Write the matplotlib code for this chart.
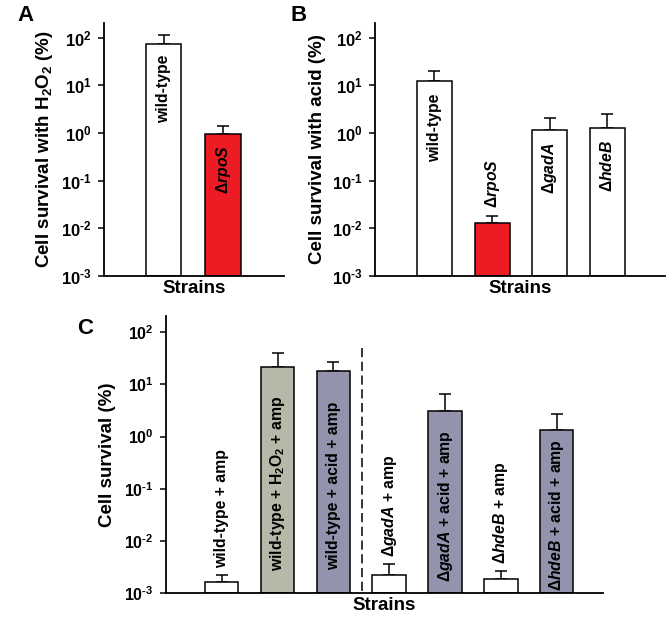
import numpy as np
import matplotlib
matplotlib.use("Agg")
import matplotlib.pyplot as plt
from matplotlib.ticker import FixedLocator, FuncFormatter, NullLocator

plt.rcParams['font.family'] = ['Liberation Sans', 'DejaVu Sans']
plt.rcParams['font.weight'] = 'bold'
plt.rcParams['mathtext.fontset'] = 'custom'
plt.rcParams['mathtext.rm'] = 'Liberation Sans'
plt.rcParams['mathtext.it'] = 'Liberation Sans:italic:bold'
plt.rcParams['mathtext.bf'] = 'Liberation Sans:bold'
plt.rcParams['mathtext.default'] = 'bf'

# ---------------- data ----------------
a_labels = ['wild-type', r'$\mathrm{Δ}\mathit{rpoS}$']
a_values = [75.0, 0.95]
a_err = [40.0, 0.47]
a_colors = ['#ffffff', '#ed1c24']

b_labels = ['wild-type', r'$\mathrm{Δ}\mathit{rpoS}$', r'$\mathrm{Δ}\mathit{gadA}$', r'$\mathrm{Δ}\mathit{hdeB}$']
b_values = [12.3, 0.0128, 1.15, 1.27]
b_err = [7.3, 0.0057, 0.97, 1.26]
b_colors = ['#ffffff', '#ed1c24', '#ffffff', '#ffffff']

c_labels = ['wild-type + amp',
            'wild-type + H$_2$O$_2$ + amp',
            'wild-type + acid + amp',
            r'$\mathrm{Δ}\mathit{gadA}$ + amp',
            r'$\mathrm{Δ}\mathit{gadA}$ + acid + amp',
            r'$\mathrm{Δ}\mathit{hdeB}$ + amp',
            r'$\mathrm{Δ}\mathit{hdeB}$ + acid + amp']
c_values = [0.0016, 21.9, 18.4, 0.00217, 3.15, 0.00185, 1.33]
c_err = [0.0006, 18.8, 9.0, 0.0015, 3.43, 0.00082, 1.36]
c_colors = ['#ffffff', '#b8b8a8', '#9393ad', '#ffffff', '#9393ad', '#ffffff', '#9393ad']

y_ticks = [1e-3, 1e-2, 1e-1, 1e0, 1e1, 1e2]
y_min, y_max = 1e-3, 10 ** 2.31

W, H = 667, 618
fig = plt.figure(figsize=(W / 100, H / 100), dpi=100)


def px_axes(left, right, top, bottom):
    return fig.add_axes([left / W, 1 - bottom / H, (right - left) / W, (bottom - top) / H])


def tick_fmt(v, p):
    e = int(round(np.log10(v)))
    s = str(e).replace('-', '\u2010')
    return r'$\mathbf{10^{%s}}$' % s


def style(ax, tick_fs):
    ax.set_yscale('log')
    ax.set_ylim(y_min, y_max)
    ax.yaxis.set_major_locator(FixedLocator(y_ticks))
    ax.yaxis.set_minor_locator(NullLocator())
    ax.yaxis.set_major_formatter(FuncFormatter(tick_fmt))
    ax.set_xticks([])
    for s in ['top', 'right']:
        ax.spines[s].set_visible(False)
    for s in ['left', 'bottom']:
        ax.spines[s].set_linewidth(1.3)
    ax.tick_params(axis='y', direction='out', length=4, width=1.1,
                   labelsize=tick_fs, pad=5)
    ax.set_xlabel('Strains', fontsize=13.5, fontweight='bold', labelpad=3)


def draw_bars(ax, values, errs, colors, width):
    x = np.arange(len(values))
    vals = np.asarray(values)
    ax.errorbar(x, vals, yerr=[np.zeros(len(errs)), errs], fmt='none',
                ecolor='black', elinewidth=1.1, capsize=4, capthick=1.1, zorder=1)
    ax.bar(x, vals - y_min, width=width, bottom=y_min, color=colors,
           edgecolor='black', linewidth=1.1, zorder=2)
    return x


# ---------------- Panel A ----------------
axA = px_axes(104, 284, 23, 276)
style(axA, 12)
xa = draw_bars(axA, a_values, a_err, a_colors, 0.6)
axA.set_xlim(-1.0, 2.025)
axA.set_ylabel('Cell survival with H$_2$O$_2$ (%)', fontsize=13.5, fontweight='bold', labelpad=4)
for xi, lab, v in zip(xa, a_labels, a_values):
    axA.annotate(lab, (xi, v), xytext=(0, -11), textcoords='offset pixels',
                 rotation=90, ha='center', va='top', fontsize=11.3, fontweight='bold', zorder=3)

# ---------------- Panel B ----------------
axB = px_axes(375, 665, 23, 276)
style(axB, 12)
xb = draw_bars(axB, b_values, b_err, b_colors, 0.61)
axB.set_xlim(-1.03, 3.997)
axB.set_ylabel('Cell survival with acid (%)', fontsize=13.5, fontweight='bold', labelpad=4)
for xi, lab, v, e in zip(xb, b_labels, b_values, b_err):
    if v > 0.5:
        axB.annotate(lab, (xi, v), xytext=(0, -12), textcoords='offset pixels',
                     rotation=90, ha='center', va='top', fontsize=11.3, fontweight='bold', zorder=3)
    else:
        axB.annotate(lab, (xi, v + e), xytext=(0, 8), textcoords='offset pixels',
                     rotation=90, ha='center', va='bottom', fontsize=11.3, fontweight='bold', zorder=3)

# ---------------- Panel C ----------------
axC = px_axes(166, 603, 316, 593)
style(axC, 11.5)
xc = draw_bars(axC, c_values, c_err, c_colors, 0.6)
axC.set_xlim(-0.998, 6.83)
axC.set_ylabel('Cell survival (%)', fontsize=13.5, fontweight='bold', labelpad=6)
axC.plot([2.52, 2.52], [50, y_min], color='black', lw=1.1, ls=(0, (6, 3)), zorder=1)
for xi, lab, v, e in zip(xc, c_labels, c_values, c_err):
    if v > 0.5:
        axC.annotate(lab, (xi, np.sqrt(v * y_min)), xytext=(0, -4), textcoords='offset pixels',
                     rotation=90, ha='center', va='center', fontsize=11.3, fontweight='bold', zorder=3)
    else:
        axC.annotate(lab, (xi, v + e), xytext=(0, 7), textcoords='offset pixels',
                     rotation=90, ha='center', va='bottom', fontsize=11.3, fontweight='bold', zorder=3)

# panel letters
fig.text(17 / W, 1 - 21 / H, 'A', fontsize=16, fontweight='bold')
fig.text(290 / W, 1 - 21 / H, 'B', fontsize=16, fontweight='bold')
fig.text(77 / W, 1 - 334 / H, 'C', fontsize=16, fontweight='bold')

fig.savefig('out.png', dpi=100)
